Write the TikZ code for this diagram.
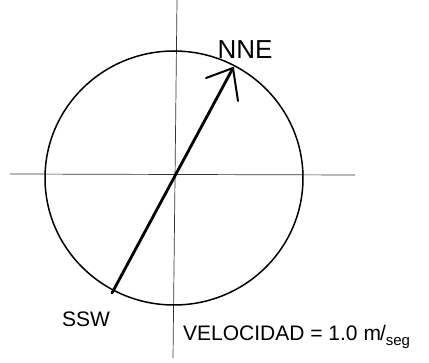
\documentclass[tikz,border=0pt]{standalone}
\usepackage{fontspec}
\setmainfont{Liberation Sans}
\begin{document}
\begin{tikzpicture}[x=1pt,y=-1pt,
  axis/.style={line width=0.7pt,black!80},
  ring/.style={line width=1.5pt},
  vec/.style={line width=2.8pt,line cap=round},
  barb/.style={line width=2pt,line cap=round},
  lbl/.style={inner sep=0pt,font=\fontsize{26}{26}\selectfont}]
\useasboundingbox (0,0) rectangle (429,363);
\coordinate (o) at (174,178);
\coordinate (top) at (177,0);
\coordinate (bot) at (173,358);
\coordinate (left) at (10,174);
\coordinate (right) at (355,175);
\draw[axis] (top) -- (bot);
\draw[axis] (left) -- (right);
\draw[ring] (o) ellipse [x radius=129, y radius=127];
\coordinate (ssw) at (112,293);
\coordinate (nne) at (233,68);
\coordinate (barbA) at (206,78);
\coordinate (barbB) at (238,101);
\draw[vec] (ssw) -- (nne);
\draw[barb] (nne) -- (barbA);
\draw[barb] (nne) -- (barbB);
\node[lbl] (nnelabel) at (245,50) {NNE};
\node[lbl,font=\fontsize{21}{21}\selectfont] (swlabel) at (86,319) {SSW};
\node[lbl,anchor=west,font=\fontsize{21}{21}\selectfont] (vel) at (183,337)
  {VELOCIDAD = 1.0 m\hspace{-1pt}/\raisebox{-5pt}{\fontsize{15}{15}\selectfont seg}};
\end{tikzpicture}
\end{document}
